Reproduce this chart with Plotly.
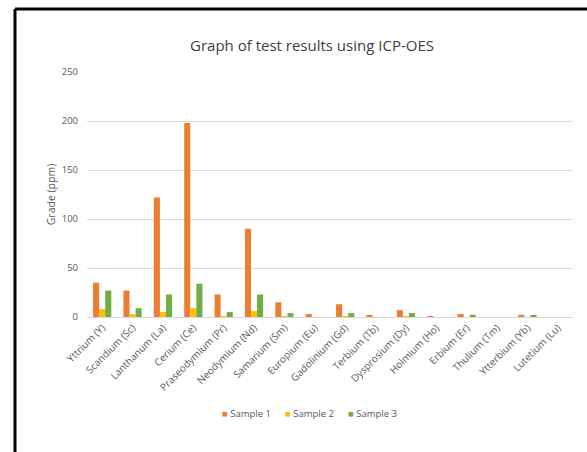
import plotly.graph_objects as go

# Rare earth element grades measured by ICP-OES (ppm)
elements = [
    "Yttrium (Y)", "Scandium (Sc)", "Lanthanum (La)", "Cerium (Ce)",
    "Praseodymium (Pr)", "Neodymium (Nd)", "Samarium (Sm)", "Europium (Eu)",
    "Gadolinium (Gd)", "Terbium (Tb)", "Dysprosium (Dy)", "Holmium (Ho)",
    "Erbium (Er)", "Thulium (Tm)", "Ytterbium (Yb)", "Lutetium (Lu)",
]
sample_1 = [35, 27, 122, 198, 23, 90, 15, 3, 13, 1.5, 7, 0.8, 3, 0, 2.3, 0]
sample_2 = [8, 3, 5, 9, 1, 6, 1, 0, 1, 0, 1, 0, 0, 0, 0, 0]
sample_3 = [27, 9, 23, 34, 5, 23, 4, 0, 4, 0, 4, 0, 2.3, 0, 1.5, 0]

series_names = ["Sample 1", "Sample 2", "Sample 3"]
series_colors = ["#ED7D31", "#FFC000", "#70AD47"]
y_ticks = [0, 50, 100, 150, 200, 250]

FONT = "Open Sans"
GREY = "#595959"

W, H = 587, 452
ML, MR, MT, MB = 87, 14, 72, 135
plot_w = W - ML - MR
plot_h = H - MT - MB


def px_x(px):
    return (px - ML) / plot_w


def px_y(py):
    return 1 + (MT - py) / plot_h


fig = go.Figure()
for name, vals, col in zip(series_names, [sample_1, sample_2, sample_3], series_colors):
    fig.add_trace(go.Bar(name=name, x=elements, y=vals, showlegend=False,
                         marker=dict(color=col, line=dict(width=0))))

# compact legend row below the category labels: coloured square + series name
legend_entries = []
for i, (name, col) in enumerate(zip(series_names, series_colors)):
    legend_entries.append(dict(
        xref="paper", yref="paper",
        x=px_x(220 + 63 * i), y=px_y(413),
        xanchor="left", yanchor="middle", showarrow=False,
        text=f"<span style='color:{col}'>■</span> {name}",
        font=dict(size=9.5, color=GREY, family=FONT),
    ))

fig.update_layout(
    width=W,
    height=H,
    margin=dict(l=ML, r=MR, t=MT, b=MB, pad=0),
    paper_bgcolor="white",
    plot_bgcolor="white",
    barmode="group",
    bargap=0.4,
    bargroupgap=0,
    showlegend=False,
    font=dict(family=FONT, color=GREY),
    title=dict(
        text="Graph of test results using ICP-OES",
        x=px_x(312), xref="paper", xanchor="center",
        y=1 - 46 / H, yanchor="middle",
        font=dict(size=15, color="#404040", family=FONT),
    ),
    annotations=legend_entries,
    xaxis=dict(
        tickangle=-45,
        tickfont=dict(size=10, color=GREY),
        showline=True,
        linecolor="#D9D9D9",
        linewidth=1,
        showgrid=False,
        ticks="",
    ),
    yaxis=dict(
        range=[0, 250],
        tickvals=y_ticks,
        tickfont=dict(size=9.5, color=GREY),
        showgrid=True,
        gridcolor="#DDDDDD",
        gridwidth=1,
        zeroline=False,
        showline=False,
        ticks="",
        ticklabelstandoff=8,
        title=dict(text="Grade (ppm)", font=dict(size=10.5, color=GREY), standoff=4),
    ),
    shapes=[
        # frame lines along the top and left edges
        dict(type="line", xref="paper", yref="paper",
             x0=px_x(15), x1=px_x(W + 5), y0=px_y(9), y1=px_y(9),
             line=dict(color="black", width=3)),
        dict(type="line", xref="paper", yref="paper",
             x0=px_x(15), x1=px_x(15), y0=px_y(9), y1=px_y(H + 5),
             line=dict(color="black", width=3)),
    ],
)

fig.write_html("out.html")
